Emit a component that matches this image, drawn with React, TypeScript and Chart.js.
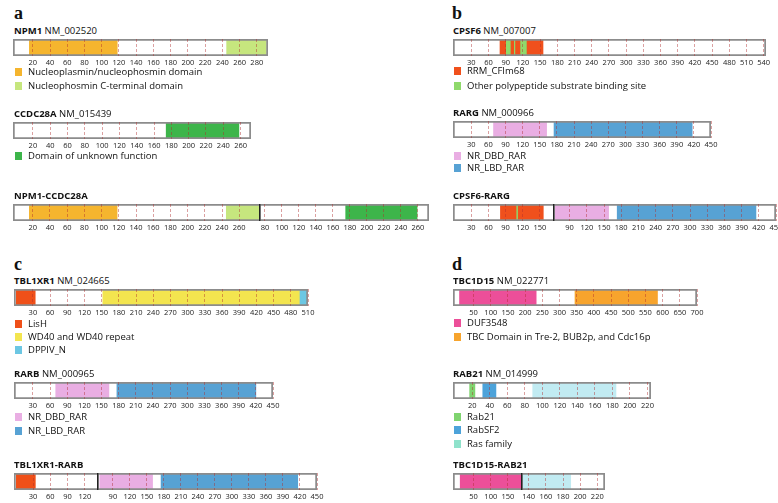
import React, { useEffect, useRef } from 'react';
import { Chart, registerables } from 'chart.js';

Chart.register(...registerables);

// ---------- domain names ----------
const NUCLEOPLASMIN = 'Nucleoplasmin/nucleophosmin domain';
const NPM_C = 'Nucleophosmin C-terminal domain';
const DUF = 'Domain of unknown function';
const RRM = 'RRM_CFIm68';
const OPSB = 'Other polypeptide substrate binding site';
const DBD = 'NR_DBD_RAR';
const LBD = 'NR_LBD_RAR';
const LISH = 'LisH';
const WD40 = 'WD40 and WD40 repeat';
const DPPIV = 'DPPIV_N';
const DUF3548 = 'DUF3548';
const TBC = 'TBC Domain in Tre-2, BUB2p, and Cdc16p';
const RAB21D = 'Rab21';
const RABSF2 = 'RabSF2';
const RAS = 'Ras family';

type Dom = [string, number, number];

// ---------- panel a ----------
const NPM1_SPAN = [-3, 293];
const NPM1_TICKS = [20, 40, 60, 80, 100, 120, 140, 160, 180, 200, 220, 240, 260, 280];
const NPM1_DOMAINS: Dom[] = [[NUCLEOPLASMIN, 16, 118], [NPM_C, 245, 291]];

const CCDC28A_SPAN = [-3, 272];
const CCDC28A_TICKS = [20, 40, 60, 80, 100, 120, 140, 160, 180, 200, 220, 240, 260];
const CCDC28A_DOMAINS: Dom[] = [[DUF, 174, 258]];

const FA_NPM1_SPAN = [-3, 283];
const FA_NPM1_TICKS = [20, 40, 60, 80, 100, 120, 140, 160, 180, 200, 220, 240, 260];
const FA_NPM1_DOMAINS: Dom[] = [[NUCLEOPLASMIN, 16, 118], [NPM_C, 245, 283]];
const FA_CCDC_SPAN = [73, 273];
const FA_CCDC_TICKS = [80, 100, 120, 140, 160, 180, 200, 220, 240, 260];
const FA_CCDC_DOMAINS: Dom[] = [[DUF, 175, 259]];

// ---------- panel b ----------
const CPSF6_SPAN = [-2, 544];
const CPSF6_TICKS = [30, 60, 90, 120, 150, 180, 210, 240, 270, 300, 330, 360, 390, 420, 450, 480, 510, 540];
const CPSF6_DOMAINS: Dom[] = [[RRM, 80, 155], [OPSB, 91, 98], [OPSB, 105, 106], [OPSB, 116, 126]];

const RARG_SPAN = [-2, 450];
const RARG_TICKS = [30, 60, 90, 120, 150, 180, 210, 240, 270, 300, 330, 360, 390, 420, 450];
const RARG_DOMAINS: Dom[] = [[DBD, 69, 162], [LBD, 175, 417]];

const FB_CPSF6_SPAN = [-2, 173];
const FB_CPSF6_TICKS = [30, 60, 90, 120, 150];
const FB_CPSF6_DOMAINS: Dom[] = [[RRM, 81, 156], [OPSB, 109.5, 111]];
const FB_RARG_SPAN = [61, 450];
const FB_RARG_TICKS = [90, 120, 150, 180, 210, 240, 270, 300, 330, 360, 390, 420, 450];
const FB_RARG_DOMAINS: Dom[] = [[DBD, 65, 158], [LBD, 173, 415]];

// ---------- panel c ----------
const TBL1XR1_SPAN = [-3, 510];
const TBL1XR1_TICKS = [30, 60, 90, 120, 150, 180, 210, 240, 270, 300, 330, 360, 390, 420, 450, 480, 510];
const TBL1XR1_DOMAINS: Dom[] = [[LISH, 1, 34], [WD40, 152, 496], [DPPIV, 496, 510]];

const RARB_SPAN = [-3, 450];
const RARB_TICKS = [30, 60, 90, 120, 150, 180, 210, 240, 270, 300, 330, 360, 390, 420, 450];
const RARB_DOMAINS: Dom[] = [[DBD, 70, 163], [LBD, 177, 420]];

const FC_TBL_SPAN = [-3, 141];
const FC_TBL_TICKS = [30, 60, 90, 120];
const FC_TBL_DOMAINS: Dom[] = [[LISH, 1, 34]];
const FC_RARB_SPAN = [62, 450];
const FC_RARB_TICKS = [90, 120, 150, 180, 210, 240, 270, 300, 330, 360, 390, 420, 450];
const FC_RARB_DOMAINS: Dom[] = [[DBD, 67, 160], [LBD, 175, 416]];

// ---------- panel d ----------
const TBC1D15_SPAN = [-10, 700];
const TBC1D15_TICKS = [50, 100, 150, 200, 250, 300, 350, 400, 450, 500, 550, 600, 650, 700];
const TBC1D15_DOMAINS: Dom[] = [[DUF3548, 9, 232], [TBC, 345, 585]];

const RAB21_SPAN = [-2, 224];
const RAB21_TICKS = [20, 40, 60, 80, 100, 120, 140, 160, 180, 200, 220];
const RAB21_DOMAINS: Dom[] = [[RAB21D, 17, 23], [RABSF2, 32, 47], [RAS, 89, 184]];

const FD_TBC_SPAN = [-10, 188];
const FD_TBC_TICKS = [50, 100, 150];
const FD_TBC_DOMAINS: Dom[] = [[DUF3548, 11, 188]];
const FD_RAB_SPAN = [131, 229];
const FD_RAB_TICKS = [140, 160, 180, 200, 220];
const FD_RAB_DOMAINS: Dom[] = [[RAS, 132, 189]];

// ---------- styles ----------
const DOMAIN_COLORS: Record<string, string> = {
  [NUCLEOPLASMIN]: '#f5b52e',
  [NPM_C]: '#c6e67e',
  [DUF]: '#3db54a',
  [RRM]: '#f0501c',
  [OPSB]: '#8fd96b',
  [DBD]: '#e9aee3',
  [LBD]: '#57a2d4',
  [LISH]: '#ef5019',
  [WD40]: '#f3e54f',
  [DPPIV]: '#6cc7e3',
  [DUF3548]: '#ec4f99',
  [TBC]: '#f7a42d',
  [RAB21D]: '#7fd46f',
  [RABSF2]: '#4da3da',
  [RAS]: '#c1ebf2',
};
const LEGEND_COLORS: Record<string, string> = { ...DOMAIN_COLORS, [RAS]: '#8fe2cb' };

const SANS = '"Open Sans", "Noto Sans", sans-serif';
const BAR_H = 17;
const AXIS_H = 14;
const PAD_L = 12;
const PAD_R = 14;

type Seg = { span: number[]; ticks: number[]; domains: Dom[]; x0: number; x1: number };
type Track = {
  bold: string;
  acc: string;
  x: number;
  top: number;
  segs: Seg[];
  legend: string[];
  legendY: number[];
};

const TRACKS: Track[] = [
  { bold: 'NPM1', acc: 'NM_002520', x: 14, top: 39,
    segs: [{ span: NPM1_SPAN, ticks: NPM1_TICKS, domains: NPM1_DOMAINS, x0: 13, x1: 268 }],
    legend: [NUCLEOPLASMIN, NPM_C], legendY: [72, 86] },
  { bold: 'CCDC28A', acc: 'NM_015439', x: 14, top: 122,
    segs: [{ span: CCDC28A_SPAN, ticks: CCDC28A_TICKS, domains: CCDC28A_DOMAINS, x0: 13, x1: 251 }],
    legend: [DUF], legendY: [156] },
  { bold: 'NPM1-CCDC28A', acc: '', x: 14, top: 204,
    segs: [
      { span: FA_NPM1_SPAN, ticks: FA_NPM1_TICKS, domains: FA_NPM1_DOMAINS, x0: 13, x1: 259 },
      { span: FA_CCDC_SPAN, ticks: FA_CCDC_TICKS, domains: FA_CCDC_DOMAINS, x0: 259, x1: 429 },
    ],
    legend: [], legendY: [] },
  { bold: 'CPSF6', acc: 'NM_007007', x: 453, top: 39,
    segs: [{ span: CPSF6_SPAN, ticks: CPSF6_TICKS, domains: CPSF6_DOMAINS, x0: 453, x1: 766 }],
    legend: [RRM, OPSB], legendY: [71, 86] },
  { bold: 'RARG', acc: 'NM_000966', x: 453, top: 121,
    segs: [{ span: RARG_SPAN, ticks: RARG_TICKS, domains: RARG_DOMAINS, x0: 453, x1: 711 }],
    legend: [DBD, LBD], legendY: [156, 168] },
  { bold: 'CPSF6-RARG', acc: '', x: 453, top: 204,
    segs: [
      { span: FB_CPSF6_SPAN, ticks: FB_CPSF6_TICKS, domains: FB_CPSF6_DOMAINS, x0: 453, x1: 553 },
      { span: FB_RARG_SPAN, ticks: FB_RARG_TICKS, domains: FB_RARG_DOMAINS, x0: 553, x1: 776 },
    ],
    legend: [], legendY: [] },
  { bold: 'TBL1XR1', acc: 'NM_024665', x: 14, top: 289,
    segs: [{ span: TBL1XR1_SPAN, ticks: TBL1XR1_TICKS, domains: TBL1XR1_DOMAINS, x0: 14, x1: 308 }],
    legend: [LISH, WD40, DPPIV], legendY: [324, 337, 350] },
  { bold: 'RARB', acc: 'NM_000965', x: 14, top: 382,
    segs: [{ span: RARB_SPAN, ticks: RARB_TICKS, domains: RARB_DOMAINS, x0: 14, x1: 273 }],
    legend: [DBD, LBD], legendY: [417, 431] },
  { bold: 'TBL1XR1-RARB', acc: '', x: 14, top: 473,
    segs: [
      { span: FC_TBL_SPAN, ticks: FC_TBL_TICKS, domains: FC_TBL_DOMAINS, x0: 14, x1: 97 },
      { span: FC_RARB_SPAN, ticks: FC_RARB_TICKS, domains: FC_RARB_DOMAINS, x0: 97, x1: 317 },
    ],
    legend: [], legendY: [] },
  { bold: 'TBC1D15', acc: 'NM_022771', x: 453, top: 289,
    segs: [{ span: TBC1D15_SPAN, ticks: TBC1D15_TICKS, domains: TBC1D15_DOMAINS, x0: 453, x1: 697 }],
    legend: [DUF3548, TBC], legendY: [323, 337] },
  { bold: 'RAB21', acc: 'NM_014999', x: 453, top: 382,
    segs: [{ span: RAB21_SPAN, ticks: RAB21_TICKS, domains: RAB21_DOMAINS, x0: 453, x1: 651 }],
    legend: [RAB21D, RABSF2, RAS], legendY: [417, 430, 444] },
  { bold: 'TBC1D15-RAB21', acc: '', x: 453, top: 473,
    segs: [
      { span: FD_TBC_SPAN, ticks: FD_TBC_TICKS, domains: FD_TBC_DOMAINS, x0: 453, x1: 521 },
      { span: FD_RAB_SPAN, ticks: FD_RAB_TICKS, domains: FD_RAB_DOMAINS, x0: 521, x1: 605 },
    ],
    legend: [], legendY: [] },
];

const PANEL_LETTERS = [
  { t: 'a', x: 14, y: 4 },
  { t: 'b', x: 452, y: 4 },
  { t: 'c', x: 14, y: 255 },
  { t: 'd', x: 452, y: 255 },
];

const junctionPlugin = {
  id: 'junction',
  afterDraw(chart: any, _args: any, opts: any) {
    if (!opts || !opts.show) return;
    const { ctx, chartArea } = chart;
    ctx.save();
    ctx.strokeStyle = '#222';
    ctx.lineWidth = 1.4;
    ctx.beginPath();
    ctx.moveTo(chartArea.left + 0.7, chartArea.top);
    ctx.lineTo(chartArea.left + 0.7, chartArea.bottom);
    ctx.stroke();
    ctx.restore();
  },
};

function Segment({ seg, top, fusionIndex }: { seg: Seg; top: number; fusionIndex: number }) {
  const ref = useRef<HTMLCanvasElement>(null);
  const w = seg.x1 - seg.x0 + PAD_L + PAD_R;
  const h = BAR_H + AXIS_H;
  useEffect(() => {
    const [lo, hi] = seg.span;
    // later domains in the list are drawn on top (Chart.js draws the first dataset last)
    const domainSets = seg.domains
      .map(([name, from, to]) => ({
        label: name,
        data: [[from, to]] as any,
        backgroundColor: DOMAIN_COLORS[name],
        borderWidth: 0,
        order: 1,
      }))
      .reverse();
    const chart = new Chart(ref.current as HTMLCanvasElement, {
      type: 'bar',
      data: {
        labels: ['protein'],
        datasets: [
          {
            label: 'outline',
            data: [[lo, hi]] as any,
            backgroundColor: 'rgba(0,0,0,0)',
            borderColor: '#8c8c8c',
            borderWidth: 1.4,
            borderSkipped: fusionIndex === 0 ? 'right' : false,
            order: 0,
          } as any,
          ...domainSets,
          {
            label: 'backbone',
            data: [[lo, hi]] as any,
            backgroundColor: '#ffffff',
            borderWidth: 0,
            order: 2,
          },
        ],
      },
      options: {
        indexAxis: 'y',
        responsive: false,
        animation: false,
        events: [],
        datasets: { bar: { barPercentage: 1, categoryPercentage: 1, grouped: false } } as any,
        layout: { padding: { left: PAD_L, right: PAD_R, top: 0, bottom: 0 } },
        plugins: {
          legend: { display: false },
          tooltip: { enabled: false },
          junction: { show: fusionIndex === 1 },
        } as any,
        scales: {
          x: {
            type: 'linear',
            position: 'bottom',
            min: lo,
            max: hi,
            afterBuildTicks: (s: any) => {
              s.ticks = seg.ticks.map((v) => ({ value: v }));
            },
            afterFit: (s: any) => {
              s.height = AXIS_H;
              s.paddingLeft = 0;
              s.paddingRight = 0;
            },
            grid: {
              color: 'rgba(175,45,45,0.45)',
              lineWidth: 1,
              drawTicks: false,
              z: 1,
            },
            border: { display: false, dash: [3, 2] },
            ticks: {
              autoSkip: false,
              maxRotation: 0,
              padding: 2,
              color: '#222',
              font: { family: SANS, size: 7.5 },
              callback: (v: any) => String(v),
            },
          } as any,
          y: { display: false, grid: { display: false } },
        },
      },
      plugins: [junctionPlugin],
    });
    return () => chart.destroy();
  }, []);
  return (
    <canvas
      ref={ref}
      width={w}
      height={h}
      style={{ position: 'absolute', left: seg.x0 - PAD_L, top, width: w, height: h }}
    />
  );
}

export default function App() {
  return (
    <div
      style={{
        position: 'absolute',
        left: 0,
        top: 0,
        width: 778,
        height: 503,
        overflow: 'hidden',
        background: '#fff',
        fontFamily: SANS,
        color: '#111',
      }}
    >
      {PANEL_LETTERS.map((p) => (
        <div
          key={p.t}
          style={{
            position: 'absolute',
            left: p.x,
            top: p.y,
            fontFamily: '"Liberation Serif", "DejaVu Serif", serif',
            fontWeight: 'bold',
            fontSize: 18,
            lineHeight: '18px',
          }}
        >
          {p.t}
        </div>
      ))}
      {TRACKS.map((t, ti) => (
        <React.Fragment key={ti}>
          <div
            style={{
              position: 'absolute',
              left: t.x,
              top: t.top - 8 - 6.5,
              fontSize: 9.5,
              lineHeight: '12px',
              whiteSpace: 'nowrap',
            }}
          >
            <span style={{ fontWeight: 'bold' }}>{t.bold}</span>
            {t.acc ? <span>{' ' + t.acc}</span> : null}
          </div>
          {t.segs.map((s, si) => (
            <Segment key={si} seg={s} top={t.top} fusionIndex={t.segs.length > 1 ? si : -1} />
          ))}
          {t.legend.map((name, li) => (
            <React.Fragment key={name}>
              <div
                style={{
                  position: 'absolute',
                  left: t.x + 1,
                  top: t.legendY[li] - 4,
                  width: 6.5,
                  height: 8,
                  background: LEGEND_COLORS[name],
                }}
              />
              <div
                style={{
                  position: 'absolute',
                  left: t.x + 14,
                  top: t.legendY[li] - 6.5,
                  fontSize: 9.5,
                  lineHeight: '12px',
                  whiteSpace: 'nowrap',
                }}
              >
                {name}
              </div>
            </React.Fragment>
          ))}
        </React.Fragment>
      ))}
    </div>
  );
}
